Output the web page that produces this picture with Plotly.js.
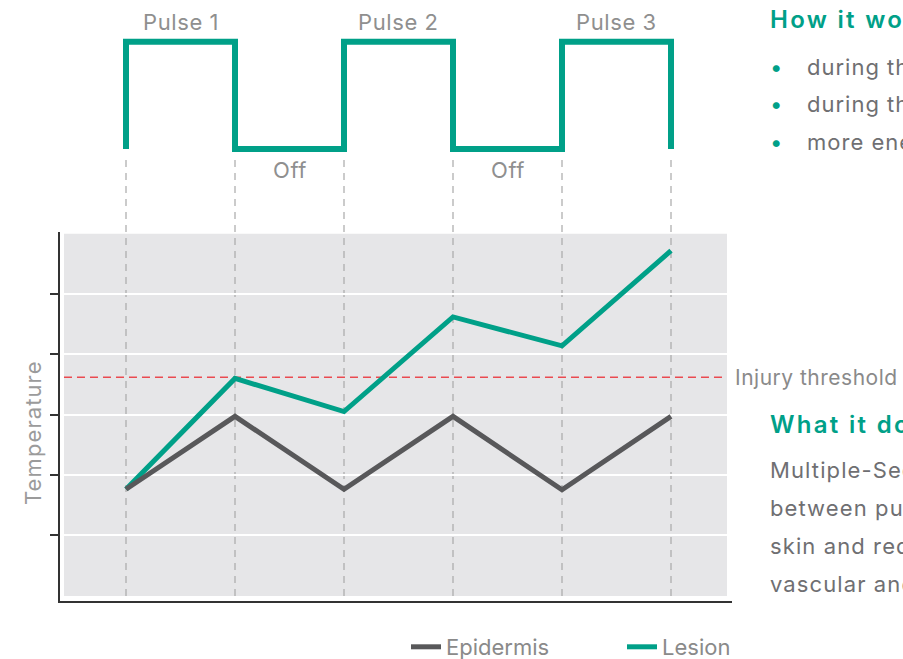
<!DOCTYPE html>
<html><head><meta charset="utf-8">
<script src="https://cdn.plot.ly/plotly-3.0.1.min.js"></script>
<style>html,body{margin:0;padding:0;background:#fff}#chart{width:903px;height:659px}</style>
</head><body><div id="chart"></div>
<script>
// ---- data ----
const timePoints = [0, 1, 2, 3, 4, 5];
const epidermis = [1.76, 2.97, 1.76, 2.97, 1.75, 2.97];
const lesion = [1.76, 3.60, 3.05, 4.62, 4.14, 5.72];
const injuryThreshold = 3.62;
const pulseX = [0, 0, 1, 1, 2, 2, 3, 3, 4, 4, 5, 5];
const pulseState = [0, 1, 1, 0, 0, 1, 1, 0, 0, 1, 1, 0];
const phaseLabels = ['Pulse 1', 'Off', 'Pulse 2', 'Off', 'Pulse 3'];
const phaseCenters = [0.5, 1.5, 2.5, 3.5, 4.5];
const gridTicks = [1, 2, 3, 4, 5];
const yTitle = 'Temperature';
const thresholdLabel = 'Injury threshold';
const howTitle = 'How it works';
const howBullets = [
  'during the pulse, lesion and epidermis heat up',
  'during the off time, the epidermis cools down',
  'more energy accumulates in the lesion'
];
const whatTitle = 'What it does';
const whatLines = [
  'Multiple-Sequential pulses with cooling',
  'between pulses protect the surrounding',
  'skin and reduce the risk of side effects in',
  'vascular and pigmented lesion treatment'
];

// ---- style ----
const FONT = 'Inter, "Liberation Sans", Arial, sans-serif';
const TEAL = '#00a088';
const DARK = '#58585a';
const W = 903, H = 659, ML = 60, MR = 171;
const px2x = p => (p - ML) / (W - ML - MR);
const py2y = p => 1 - p / H;
const spaced = (t, s) => '<span style="letter-spacing:' + s + 'px">' + t + '</span>';

const traces = [
  {x: timePoints, y: lesion, type: 'scatter', mode: 'lines', name: 'Lesion',
   line: {color: TEAL, width: 5}, legend: 'legend2', hoverinfo: 'x+y'},
  {x: timePoints, y: epidermis, type: 'scatter', mode: 'lines', name: 'Epidermis',
   line: {color: DARK, width: 5}, legend: 'legend', hoverinfo: 'x+y'},
  {x: pulseX, y: pulseState, xaxis: 'x', yaxis: 'y2', type: 'scatter', mode: 'lines',
   line: {color: TEAL, width: 6}, showlegend: false, hoverinfo: 'skip'}
];

const shapes = [
  {type: 'rect', xref: 'x', yref: 'y', x0: -0.569, x1: 5.514, y0: -0.012, y1: 6.0,
   fillcolor: '#e6e6e8', line: {width: 0}, layer: 'below'},
  {type: 'line', xref: 'x', yref: 'y', x0: -0.569, x1: 5.50, y0: injuryThreshold, y1: injuryThreshold,
   line: {color: '#ea4a50', width: 1.5, dash: '8px,5px'}, layer: 'below'}
];
timePoints.forEach(t => {
  shapes.push({type: 'line', xref: 'x', yref: 'y', x0: t, x1: t, y0: -0.012, y1: 6.03,
    line: {color: '#a9a9a9', width: 1.2, dash: '7px,6px'}, layer: 'below'});
  shapes.push({type: 'line', xref: 'x', yref: 'paper', x0: t, x1: t, y0: py2y(232), y1: py2y(154),
    line: {color: '#a9a9a9', width: 1.2, dash: '7px,6px'}, layer: 'above'});
});

const annotations = [];
phaseLabels.forEach((lab, i) => {
  const top = i % 2 === 0;
  annotations.push({text: spaced(lab, 0.6), xref: 'x', yref: 'paper', x: phaseCenters[i], y: py2y(top ? 22 : 170),
    xanchor: 'center', yanchor: 'middle', showarrow: false,
    font: {family: FONT, size: 22, color: '#8f8f8f'}});
});
annotations.push({text: spaced(yTitle, 1.1), xref: 'paper', yref: 'paper', x: px2x(33), y: py2y(433),
  textangle: -90, xanchor: 'center', yanchor: 'middle', showarrow: false,
  font: {family: FONT, size: 22, color: '#9b9b9b'}});
annotations.push({text: spaced(thresholdLabel, 0.5), xref: 'paper', yref: 'y', x: px2x(733), y: injuryThreshold,
  xanchor: 'left', yanchor: 'middle', showarrow: false,
  font: {family: FONT, size: 21, color: '#8a8a8a'}});
annotations.push({text: spaced(howTitle, 2.3), xref: 'paper', yref: 'paper',
  x: px2x(768), y: py2y(20), xanchor: 'left', yanchor: 'middle', showarrow: false,
  font: {family: FONT, size: 24, color: TEAL, weight: 600}});
howBullets.forEach((b, i) => {
  const yc = 67 + i * 37.5;
  annotations.push({text: '•', xref: 'paper', yref: 'paper', x: px2x(776), y: py2y(yc),
    xanchor: 'center', yanchor: 'middle', showarrow: false,
    font: {family: FONT, size: 22, color: TEAL}});
  annotations.push({text: spaced(b, 1), xref: 'paper', yref: 'paper', x: px2x(805), y: py2y(yc),
    xanchor: 'left', yanchor: 'middle', showarrow: false,
    font: {family: FONT, size: 22, color: '#6f6f72'}});
});
annotations.push({text: spaced(whatTitle, 2.3), xref: 'paper', yref: 'paper',
  x: px2x(768), y: py2y(425), xanchor: 'left', yanchor: 'middle', showarrow: false,
  font: {family: FONT, size: 24, color: TEAL, weight: 600}});
whatLines.forEach((l, i) => {
  annotations.push({text: spaced(l, 1.1), xref: 'paper', yref: 'paper', x: px2x(768), y: py2y(470 + i * 38),
    xanchor: 'left', yanchor: 'middle', showarrow: false,
    font: {family: FONT, size: 22, color: '#6f6f72'}});
});

const legendBase = {orientation: 'h', yanchor: 'middle', y: py2y(647), xanchor: 'left',
  bgcolor: 'rgba(0,0,0,0)', borderwidth: 0, font: {family: FONT, size: 22, color: '#8a8a8a'}};

const layout = {
  width: W, height: H,
  margin: {l: ML, r: MR, t: 0, b: 0, pad: 0, autoexpand: false},
  paper_bgcolor: '#ffffff', plot_bgcolor: 'rgba(0,0,0,0)',
  font: {family: FONT},
  showlegend: true,
  legend: Object.assign({}, legendBase, {x: px2x(406)}),
  legend2: Object.assign({}, legendBase, {x: px2x(622)}),
  xaxis: {range: [-0.6055, 5.5596], showgrid: false, zeroline: false, showline: true,
    linecolor: '#333', linewidth: 2, ticks: '', showticklabels: false, anchor: 'y', fixedrange: true},
  yaxis: {domain: [py2y(601), py2y(232)], range: [-0.095, 6.03], tickvals: gridTicks,
    ticks: 'outside', ticklen: 8, tickwidth: 1.5, tickcolor: '#333', showticklabels: false,
    showgrid: true, gridcolor: '#ffffff', gridwidth: 2, zeroline: false,
    showline: true, linecolor: '#333', linewidth: 2, fixedrange: true},
  yaxis2: {domain: [py2y(159.7), py2y(31)], range: [-0.1, 1.1], visible: false,
    anchor: 'x', fixedrange: true},
  shapes: shapes,
  annotations: annotations
};

Plotly.newPlot('chart', traces, layout, {displayModeBar: false, responsive: false});
</script>
</body></html>
